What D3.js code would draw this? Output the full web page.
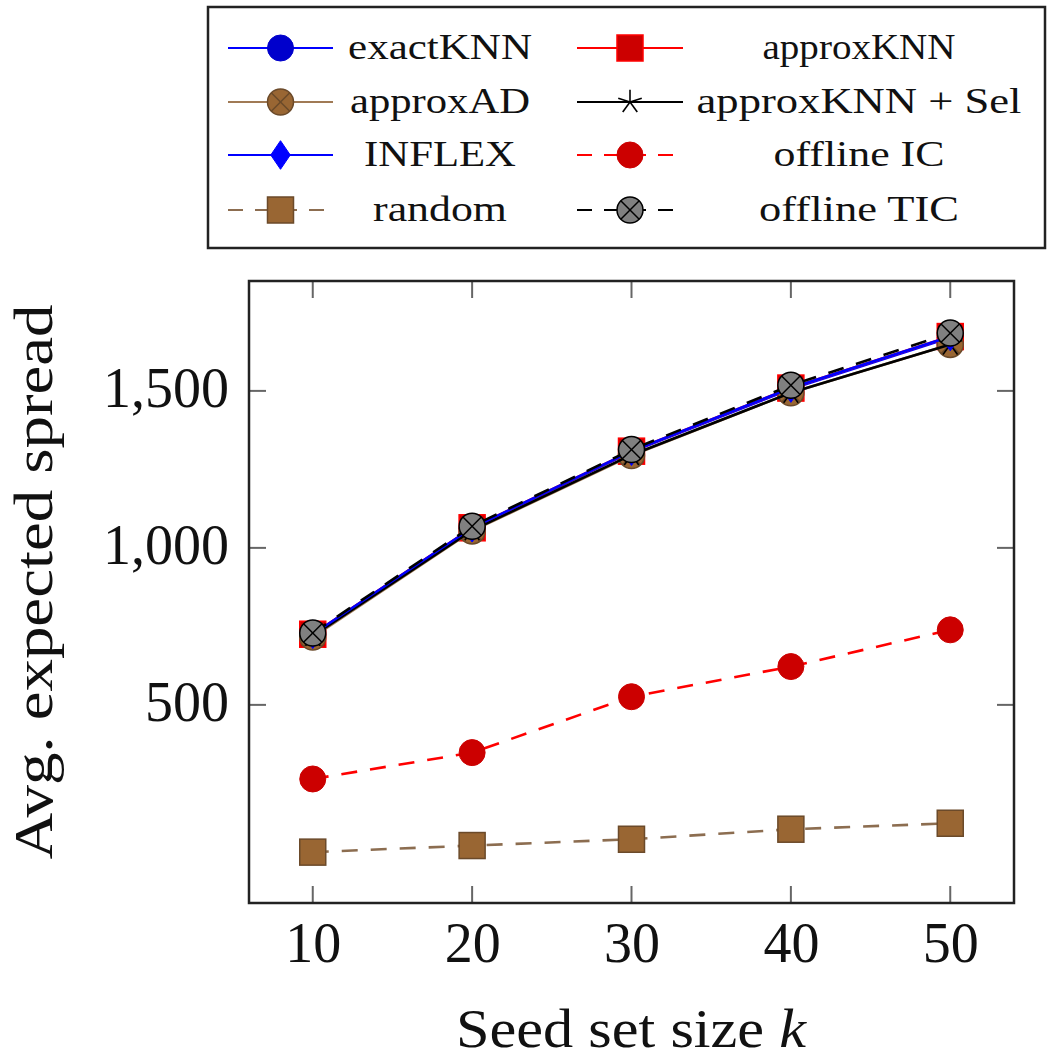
<!DOCTYPE html>
<html>
<head>
<meta charset="utf-8">
<script src="https://cdn.jsdelivr.net/npm/d3@7"></script>
<style>
  html, body { margin: 0; padding: 0; background: #fff; }
  svg { display: block; }
  text { font-family: "Liberation Serif", "DejaVu Serif", serif; fill: #111; }
</style>
</head>
<body>
<svg id="chart" width="1048" height="1059"></svg>
<script>
// ---- data ----
const kValues = [10, 20, 30, 40, 50];
const exactKNN = [724, 1062, 1306, 1506, 1670];
const approxKNN = [725, 1064, 1308, 1509, 1673];
const approxAD = [716, 1054, 1294, 1494, 1648];
const approxKNNSel = [720, 1056, 1296, 1494, 1648];
const inflex = [725, 1064, 1308, 1509, 1673];
const offlineIC = [264, 348, 526, 622, 739];
const randomSeeds = [31, 52, 72, 104, 123];
const offlineTIC = [729, 1069, 1313, 1518, 1684];
const yTickValues = [500, 1000, 1500];
const xTickValues = [10, 20, 30, 40, 50];
const seriesNames = ["exactKNN", "approxKNN", "approxAD", "approxKNN + Sel", "INFLEX", "offline IC", "random", "offline TIC"];
const seriesValues = [exactKNN, approxKNN, approxAD, approxKNNSel, inflex, offlineIC, randomSeeds, offlineTIC];

// ---- styles ----
const styles = [
  { line: "#0000ff", dash: null, marker: "circle", fill: "#0000cc", stroke: "#0000cc" },
  { line: "#ff0000", dash: null, marker: "square", fill: "#cc0000", stroke: "#ff0000" },
  { line: "#a07a55", dash: null, marker: "otimes", fill: "#996633", stroke: "#6b4a2a" },
  { line: "#000000", dash: null, marker: "star", fill: "none", stroke: "#000" },
  { line: "#0000ff", dash: null, marker: "diamond", fill: "#0000ff", stroke: "#0000ff" },
  { line: "#ff0000", dash: "16,13", marker: "circle", fill: "#cc0000", stroke: "#cc0000" },
  { line: "#8c6d50", dash: "16,13", marker: "square", fill: "#996633", stroke: "#6b4a2a" },
  { line: "#000000", dash: "16,13", marker: "otimes", fill: "#808080", stroke: "#000" }
];
const legendWidths = [184, 193, 180, 325, 152, 171, 134, 200];

const svg = d3.select("#chart");
svg.append("rect").attr("width", 1048).attr("height", 1059).attr("fill", "#fff");

const plot = { left: 249, right: 1014, top: 281, bottom: 903 };
const x = d3.scaleLinear().domain([6, 54]).range([plot.left, plot.right]);
const y = d3.scaleLinear().domain([-131, 1850]).range([plot.bottom, plot.top]);

function fitText(sel, target) {
  sel.each(function () {
    const w = this.getComputedTextLength();
    const t = d3.select(this);
    const base = t.attr("transform") || "";
    t.attr("transform", base + ` scale(${target / w},1)`);
  });
}

function drawMarker(g, type, cx, cy, st, size) {
  const s = size || 13;
  const m = g.append("g").attr("transform", `translate(${cx},${cy})`);
  if (type === "circle") {
    m.append("circle").attr("r", s).attr("fill", st.fill).attr("stroke", st.stroke).attr("stroke-width", 1);
  } else if (type === "square") {
    m.append("rect").attr("x", -s).attr("y", -s).attr("width", 2 * s).attr("height", 2 * s)
      .attr("fill", st.fill).attr("stroke", st.stroke).attr("stroke-width", 1.5);
  } else if (type === "otimes") {
    m.append("circle").attr("r", s).attr("fill", st.fill).attr("stroke", st.stroke).attr("stroke-width", 1.5);
    const d = s * 0.707;
    m.append("line").attr("x1", -d).attr("y1", -d).attr("x2", d).attr("y2", d).attr("stroke", st.stroke).attr("stroke-width", 1.5);
    m.append("line").attr("x1", -d).attr("y1", d).attr("x2", d).attr("y2", -d).attr("stroke", st.stroke).attr("stroke-width", 1.5);
  } else if (type === "diamond") {
    m.append("path").attr("d", `M0,${-s * 1.1}L${s * 0.75},0L0,${s * 1.1}L${-s * 0.75},0Z`)
      .attr("fill", st.fill).attr("stroke", st.stroke).attr("stroke-width", 1);
  } else if (type === "star") {
    const r = s * 0.95;
    for (let i = 0; i < 5; i++) {
      const a = -Math.PI / 2 + i * 2 * Math.PI / 5;
      m.append("line").attr("x1", 0).attr("y1", 0)
        .attr("x2", r * Math.cos(a)).attr("y2", r * Math.sin(a))
        .attr("stroke", "#000").attr("stroke-width", 1.6);
    }
  }
}

// ---- ticks (inward, mirrored on all sides) ----
const tickG = svg.append("g").attr("stroke", "#666").attr("stroke-width", 2);
xTickValues.forEach(v => {
  tickG.append("line").attr("x1", x(v)).attr("x2", x(v)).attr("y1", plot.bottom).attr("y2", plot.bottom - 17);
  tickG.append("line").attr("x1", x(v)).attr("x2", x(v)).attr("y1", plot.top).attr("y2", plot.top + 17);
});
yTickValues.forEach(v => {
  tickG.append("line").attr("x1", plot.left).attr("x2", plot.left + 17).attr("y1", y(v)).attr("y2", y(v));
  tickG.append("line").attr("x1", plot.right).attr("x2", plot.right - 17).attr("y1", y(v)).attr("y2", y(v));
});

// ---- axes via d3 (labels only, tick lines hidden) ----
const fmt = d3.format(",");
const xAxis = svg.append("g").attr("transform", `translate(0,${plot.bottom})`)
  .call(d3.axisBottom(x).tickValues(xTickValues).tickSize(0).tickPadding(0).tickFormat(d3.format("d")));
xAxis.select(".domain").remove();
xAxis.selectAll("text").attr("font-size", 56).attr("font-family", "Liberation Serif")
  .attr("dy", null).attr("y", 59).attr("fill", "#111");

const yAxis = svg.append("g").attr("transform", `translate(${plot.left},0)`)
  .call(d3.axisLeft(y).tickValues(yTickValues).tickSize(0).tickPadding(0).tickFormat(fmt));
yAxis.select(".domain").remove();
yAxis.selectAll("text").attr("font-size", 56).attr("font-family", "Liberation Serif")
  .attr("dy", null).attr("x", -20).attr("y", 16).attr("fill", "#111");

// ---- series ----
const lineGen = d3.line().x(d => x(d[0])).y(d => y(d[1]));
const series = svg.append("g");
seriesValues.forEach((vals, i) => {
  const st = styles[i];
  const pts = kValues.map((k, j) => [k, vals[j]]);
  const g = series.append("g");
  g.append("path").attr("d", lineGen(pts)).attr("fill", "none").attr("stroke", st.line)
    .attr("stroke-width", 2.6).attr("stroke-dasharray", st.dash);
  pts.forEach(p => drawMarker(g, st.marker, x(p[0]), y(p[1]), st, 13));
});

// ---- frame ----
svg.append("rect").attr("x", plot.left).attr("y", plot.top)
  .attr("width", plot.right - plot.left).attr("height", plot.bottom - plot.top)
  .attr("fill", "none").attr("stroke", "#222").attr("stroke-width", 2.5);

// ---- axis titles ----
const xt = svg.append("text").attr("transform", "translate(631,1047)").attr("text-anchor", "middle")
  .attr("font-size", 54);
xt.append("tspan").text("Seed set size ");
xt.append("tspan").attr("font-style", "italic").text("k");
fitText(xt, 350);

const yt = svg.append("text").attr("transform", "translate(52,582) rotate(-90)").attr("text-anchor", "middle")
  .attr("font-size", 54).text("Avg. expected spread");
fitText(yt, 555);

// ---- legend ----
const lg = svg.append("g");
lg.append("rect").attr("x", 208).attr("y", 7).attr("width", 837).attr("height", 241)
  .attr("fill", "#fff").attr("stroke", "#222").attr("stroke-width", 2.5);
const rowsY = [48, 102, 155, 210];
const cols = [
  { x1: 228, x2: 333, tx: 440 },
  { x1: 577, x2: 683, tx: 859 }
];
seriesNames.forEach((name, i) => {
  const col = cols[i % 2];
  const ry = rowsY[Math.floor(i / 2)];
  const st = styles[i];
  lg.append("line").attr("x1", col.x1).attr("x2", col.x2).attr("y1", ry).attr("y2", ry)
    .attr("stroke", st.line).attr("stroke-width", 2.2).attr("stroke-dasharray", st.dash ? "15,12" : null);
  drawMarker(lg, st.marker, (col.x1 + col.x2) / 2, ry, st, 13);
  const t = lg.append("text").attr("transform", `translate(${col.tx},${ry + 11})`)
    .attr("text-anchor", "middle").attr("font-size", 36).text(name);
  fitText(t, legendWidths[i]);
});
</script>
</body>
</html>
